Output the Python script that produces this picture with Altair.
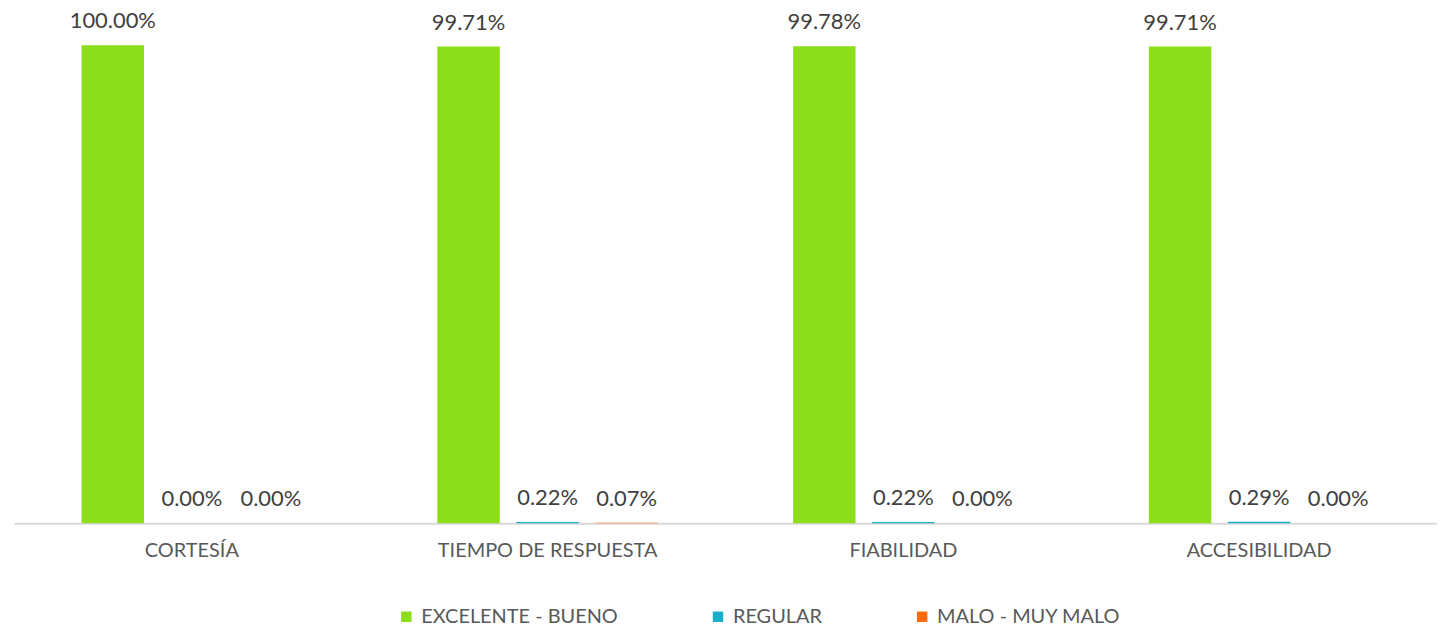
import altair as alt
import pandas as pd

categories = ["CORTESÍA", "TIEMPO DE RESPUESTA", "FIABILIDAD", "ACCESIBILIDAD"]
series = ["EXCELENTE - BUENO", "REGULAR", "MALO - MUY MALO"]
excelente = [100.00, 99.71, 99.78, 99.71]
regular = [0.00, 0.22, 0.22, 0.29]
malo = [0.00, 0.07, 0.00, 0.00]
colors = ["#8CDD1A", "#1AAFC9", "#FF6A0A"]

rows = []
for vals, s in zip([excelente, regular, malo], series):
    for c, v in zip(categories, vals):
        rows.append({"cat": c, "serie": s, "value": v})
df = pd.DataFrame(rows)

FONT = "Lato"

base = alt.Chart(df).encode(
    x=alt.X("cat:N", sort=categories, title=None,
            scale=alt.Scale(paddingInner=0.38, paddingOuter=0.19),
            axis=alt.Axis(labelAngle=0, ticks=False, domainColor="#D9D9D9", domainWidth=2,
                          labelFontSize=20, labelColor="#595959", labelFont=FONT,
                          labelPadding=17, labelLimit=400, grid=False)),
    xOffset=alt.XOffset("serie:N", sort=series,
                        scale=alt.Scale(paddingInner=0.21, paddingOuter=0)),
)

bars = base.mark_bar().encode(
    y=alt.Y("value:Q", scale=alt.Scale(domain=[0, 100]), axis=None),
    color=alt.Color("serie:N", sort=series,
                    scale=alt.Scale(domain=series, range=colors),
                    legend=alt.Legend(title=None, orient="none", direction="horizontal",
                                      legendX=384, legendY=564,
                                      symbolType="square", symbolSize=110,
                                      symbolStrokeWidth=0,
                                      labelFontSize=20, labelColor="#595959",
                                      labelFont=FONT, columnPadding=90,
                                      labelLimit=400, symbolOffset=0, labelOffset=5)),
)

labels = base.mark_text(fontSize=22, color="#404040", font=FONT, baseline="alphabetic", dy=-17).encode(
    y=alt.Y("value:Q"),
    text=alt.Text("label:N"),
).transform_calculate(label="format(datum.value, '.2f') + '%'")

chart = (bars + labels).properties(
    width=1429, height=480,
    padding={"left": 6, "top": 36, "right": 0, "bottom": 105},
    autosize=alt.AutoSizeParams(type="none"),
).configure(background="white").configure_view(strokeWidth=0, stroke="transparent")

chart.save("out.html", embed_options={"renderer": "svg", "actions": False})
